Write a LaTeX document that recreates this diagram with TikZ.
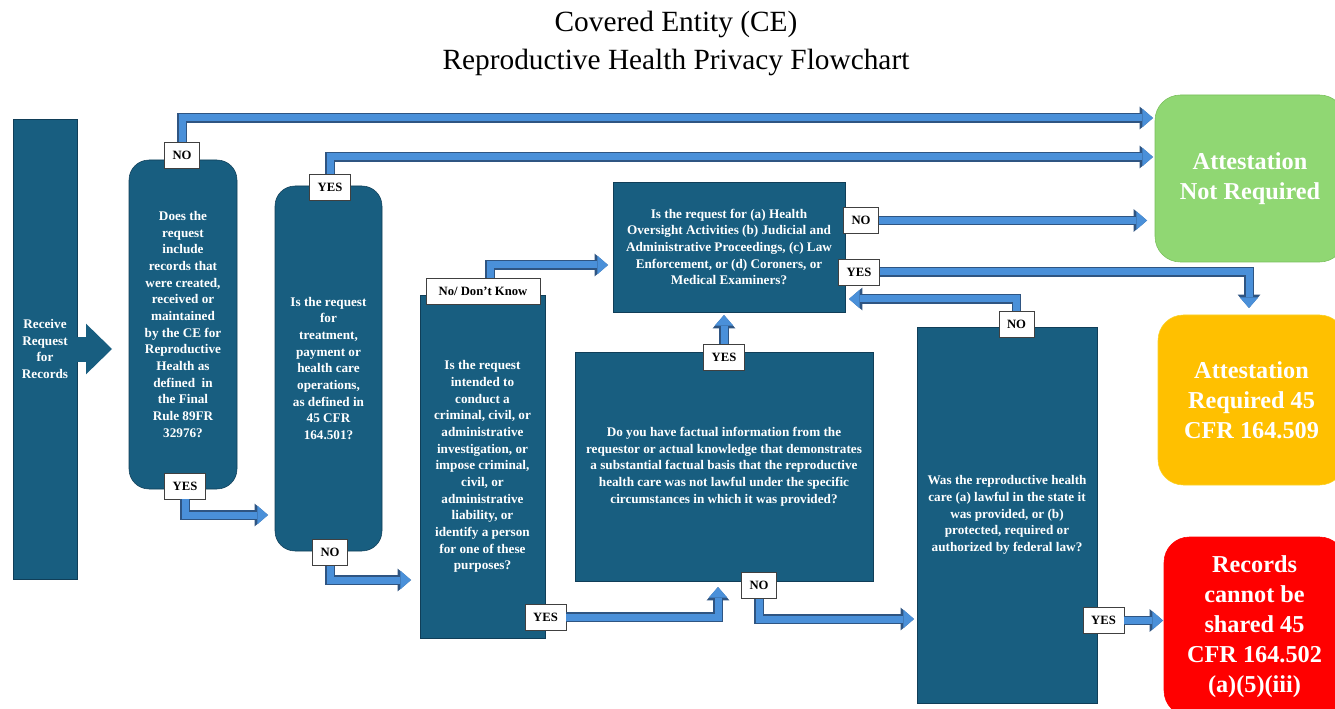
\documentclass[tikz,border=0pt]{standalone}
\usepackage{fontspec}
\setmainfont{Liberation Serif}
\usepackage{xcolor}
\usetikzlibrary{arrows.meta,positioning,shapes}
\definecolor{boxteal}{RGB}{24,94,128}
\definecolor{boxedge}{RGB}{16,62,88}
\definecolor{flowfill}{RGB}{74,144,217}
\definecolor{flowedge}{RGB}{47,85,130}
\definecolor{okgreen}{RGB}{144,215,115}
\definecolor{okgreenedge}{RGB}{120,190,90}
\definecolor{attgold}{RGB}{255,192,0}
\definecolor{attgoldedge}{RGB}{250,210,40}
\definecolor{stopred}{RGB}{255,0,0}
\newcommand{\qfont}{\bfseries\fontsize{9.9}{12.5}\selectfont}
\newcommand{\ansfont}{\bfseries\fontsize{9.5}{11}\selectfont}
\newcommand{\outfont}{\bfseries\fontsize{18.2}{22.6}\selectfont}
\newcommand{\headfont}{\fontsize{22}{28.5}\selectfont}

\begin{document}
\begin{tikzpicture}[x = .75pt, y = -.75pt,
    qbox/.style = {fill = boxteal, draw = boxedge, text = white, font = \qfont, align = center, inner sep = 1pt},
    qround/.style = {qbox, rounded corners = 15pt},
    answer/.style = {fill = white, draw = black!75, font = \ansfont, inner xsep = 6pt, inner ysep = 0pt, minimum height = 19.5pt},
    outcome/.style = {text = white, font = \outfont, align = center, rounded corners = 19pt},
    flowarrow/.style = {draw = flowfill, line width = 5.25pt, line join = miter,
      -{Triangle[width = 14pt, length = 8pt, line width = 0pt]},
      preaction = {draw = flowedge, line width = 7pt, -{Triangle[width = 17pt, length = 10pt, line width = 0pt]}}}]
    \useasboundingbox (0,0) rectangle (1335,709);
    \node[font = \headfont, align = center] (title) at (676,43) {Covered Entity (CE)\\Reproductive Health Privacy Flowchart};

    % Question boxes
    \node[qbox, minimum width = 48pt, minimum height = 345pt] (recv) at (45,349) {Receive\\Request\\for\\Records};
    \node[qround, minimum width = 81pt, minimum height = 246.75pt] (q1) at (183,324.5) {Does the\\request\\include\\records that\\were created,\\received or\\maintained\\by the CE for\\Reproductive\\Health as\\defined\ \ in\\the Final\\Rule 89FR\\32976?};
    \node[qround, minimum width = 80.25pt, minimum height = 273.75pt] (q2) at (328.5,368.5) {Is the request\\for\\treatment,\\payment or\\health care\\operations,\\as defined in\\45 CFR\\164.501?};
    \node[qbox, minimum width = 93.75pt, minimum height = 257.25pt] (q3) at (482.5,466.5) {Is the request\\intended to\\conduct a\\criminal, civil, or\\administrative\\investigation, or\\impose criminal,\\civil, or\\administrative\\liability, or\\identify a person\\for one of these\\purposes?};
    \node[qbox, minimum width = 174pt, minimum height = 97.5pt] (q4) at (729,247) {Is the request for (a) Health\\Oversight Activities (b) Judicial and\\Administrative Proceedings, (c) Law\\Enforcement, or (d) Coroners, or\\Medical Examiners?};
    \node[qbox, minimum width = 223.5pt, minimum height = 171.75pt] (q5) at (724,466.5) {Do you have factual information from the\\requestor or actual knowledge that demonstrates\\a substantial factual basis that the reproductive\\health care was not lawful under the specific\\circumstances in which it was provided?};
    \node[qbox, minimum width = 135pt, minimum height = 282pt] (q6) at (1007,515) {Was the reproductive health\\care (a) lawful in the state it\\was provided, or (b)\\protected, required or\\authorized by federal law?};

    % Outcomes
    \node[outcome, fill = okgreen, draw = okgreenedge, minimum width = 142.5pt, minimum height = 125.25pt] (notreq) at (1250,178.5) {Attestation\\Not Required};
    \node[outcome, fill = attgold, draw = attgoldedge, minimum width = 140.25pt, minimum height = 127.5pt] (req) at (1251.5,400) {Attestation\\Required 45\\CFR 164.509};
    \node[outcome, fill = stopred, draw = stopred, minimum width = 135.75pt, minimum height = 134.25pt] (stop) at (1254.5,626.5) {Records\\cannot be\\shared 45\\CFR 164.502\\(a)(5)(iii)};

    % Answers
    \node[answer] (q1no) at (182,155) {NO};
    \node[answer] (q1yes) at (185,486) {YES};
    \node[answer] (q2yes) at (330,187.5) {YES};
    \node[answer] (q2no) at (330,552.5) {NO};
    \node[answer, minimum width = 85.5pt] (q3dk) at (483,291.5) {No/ Don't Know};
    \node[answer] (q3yes) at (545.5,617) {YES};
    \node[answer] (q4no) at (861,220.5) {NO};
    \node[answer] (q4yes) at (859,272) {YES};
    \node[answer] (q5yes) at (724,357) {YES};
    \node[answer] (q5no) at (759,585.5) {NO};
    \node[answer] (q6no) at (1016.5,324.5) {NO};
    \node[answer] (q6yes) at (1103.5,620.5) {YES};

    % Arrow ends
    \coordinate (recvtip) at (112,349);
    \coordinate (toNR1) at (1153,118);
    \coordinate (toNR2) at (1153,157);
    \coordinate (toNR3) at (1147,220.5);
    \coordinate (toQ2) at (268,515);
    \coordinate (toQ3) at (411,580);
    \coordinate (toQ4) at (608,265);
    \coordinate (upQ4) at (724,315);
    \coordinate (upQ5) at (718,587);
    \coordinate (toQ6) at (914,619);
    \coordinate (toReq) at (1249,308);
    \coordinate (backQ4) at (849,299);
    \coordinate (toStop) at (1163,620.5);

    \draw[line width = 18.75pt, boxteal, -{Triangle[width = 38pt, length = 19.5pt, line width = 0pt]}] (recv.east) -- (recvtip);
    \draw[flowarrow] (q1no.north) |- (toNR1);
    \draw[flowarrow] (q2yes.north) |- (toNR2);
    \draw[flowarrow] (q1yes.south) |- (toQ2);
    \draw[flowarrow] (q2no.south) |- (toQ3);
    \draw[flowarrow] ([xshift = 5.25pt]q3dk.north) |- (toQ4);
    \draw[flowarrow] (q5yes.north) -- (upQ4);
    \draw[flowarrow] (q3yes.east) -| (upQ5);
    \draw[flowarrow] (q5no.south) |- (toQ6);
    \draw[flowarrow] (q4no.east) -- (toNR3);
    \draw[flowarrow] (q4yes.east) -| (toReq);
    \draw[flowarrow] (q6no.north) |- (backQ4);
    \draw[flowarrow] (q6yes.east) -- (toStop);
  \end{tikzpicture}
\end{document}
